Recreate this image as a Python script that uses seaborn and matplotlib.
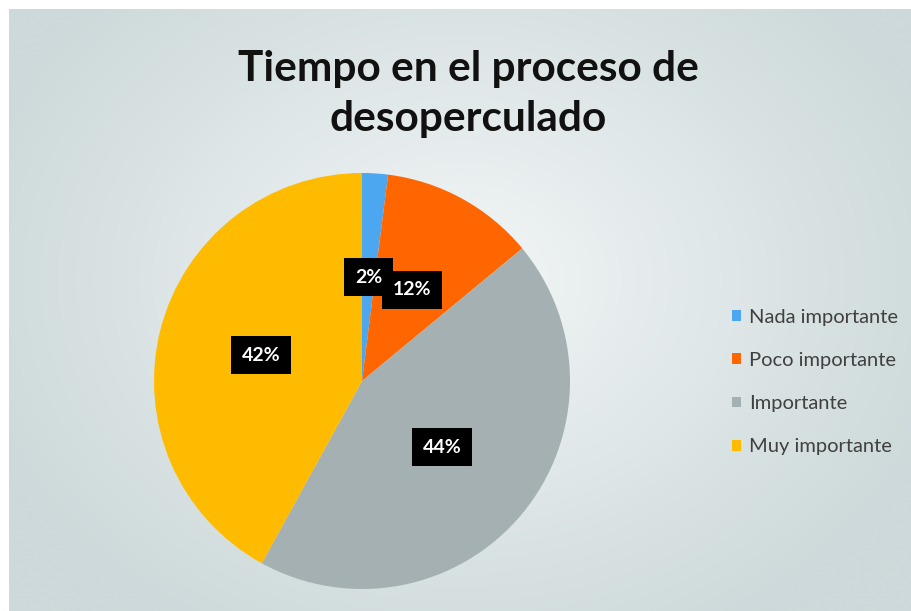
import numpy as np
import matplotlib
matplotlib.use("Agg")
import matplotlib.pyplot as plt
from matplotlib.patches import Patch
import seaborn as sns

# Survey answers: importance of the uncapping time
categories = ["Nada importante", "Poco importante", "Importante", "Muy importante"]
shares = [2, 12, 44, 42]
colors = ["#4ca6f0", "#ff6600", "#a5b0b2", "#ffbb00"]
title = "Tiempo en el proceso de\ndesoperculado"

sns.set_theme(style="white")
plt.rcParams["font.family"] = ["Lato", "DejaVu Sans"]

W, H = 912, 611
fig = plt.figure(figsize=(W / 100, H / 100), dpi=100)
fig.patch.set_facecolor("white")

# Soft radial gradient panel behind the chart
bg = fig.add_axes([9 / W, 0, 1 - 9 / W, 1 - 9 / H])
yy, xx = np.mgrid[0:1:300j, 0:1:450j]
d = np.sqrt(((xx - 0.5) / 0.75) ** 2 + ((yy - 0.45) / 0.9) ** 2)
d = np.clip(d / 0.75, 0, 1)
c0 = np.array([0xf3, 0xf6, 0xf7]) / 255
c1 = np.array([0xcd, 0xd9, 0xda]) / 255
img = c0[None, None, :] * (1 - d[..., None]) + c1[None, None, :] * d[..., None]
bg.imshow(img, aspect="auto", extent=[0, 1, 0, 1])
bg.set_axis_off()

# Pie
cx, cy, r = 362, 381, 208
ax = fig.add_axes([(cx - r) / W, (H - cy - r) / H, 2 * r / W, 2 * r / H])
wedges, texts, autotexts = ax.pie(
    shares,
    colors=colors,
    startangle=90,
    counterclock=False,
    autopct=lambda p: f"{p:.0f}%",
    pctdistance=0.5,
    wedgeprops=dict(linewidth=0),
    textprops=dict(color="white", fontsize=14, fontweight="bold"),
)
for t in autotexts:
    t.set_bbox(dict(boxstyle="square,pad=0.55", facecolor="black", edgecolor="none"))
ax.set_xlim(-1, 1)
ax.set_ylim(-1, 1)
ax.set_aspect("equal")
ax.set_axis_off()

fig.text(468 / W, 1 - 94 / H, title, ha="center", va="center",
         fontsize=30.5, fontweight="bold", color="#111111", linespacing=1.38)

handles = [Patch(facecolor=c, edgecolor="none") for c in colors]
leg = fig.legend(handles, categories, loc="center left",
                 bbox_to_anchor=(714 / W, 1 - 382 / H), frameon=False,
                 fontsize=14.5, handlelength=0.45, handleheight=0.45,
                 handletextpad=0.4, labelspacing=1.3, labelcolor="#404040")

fig.savefig("out.png", dpi=100)
